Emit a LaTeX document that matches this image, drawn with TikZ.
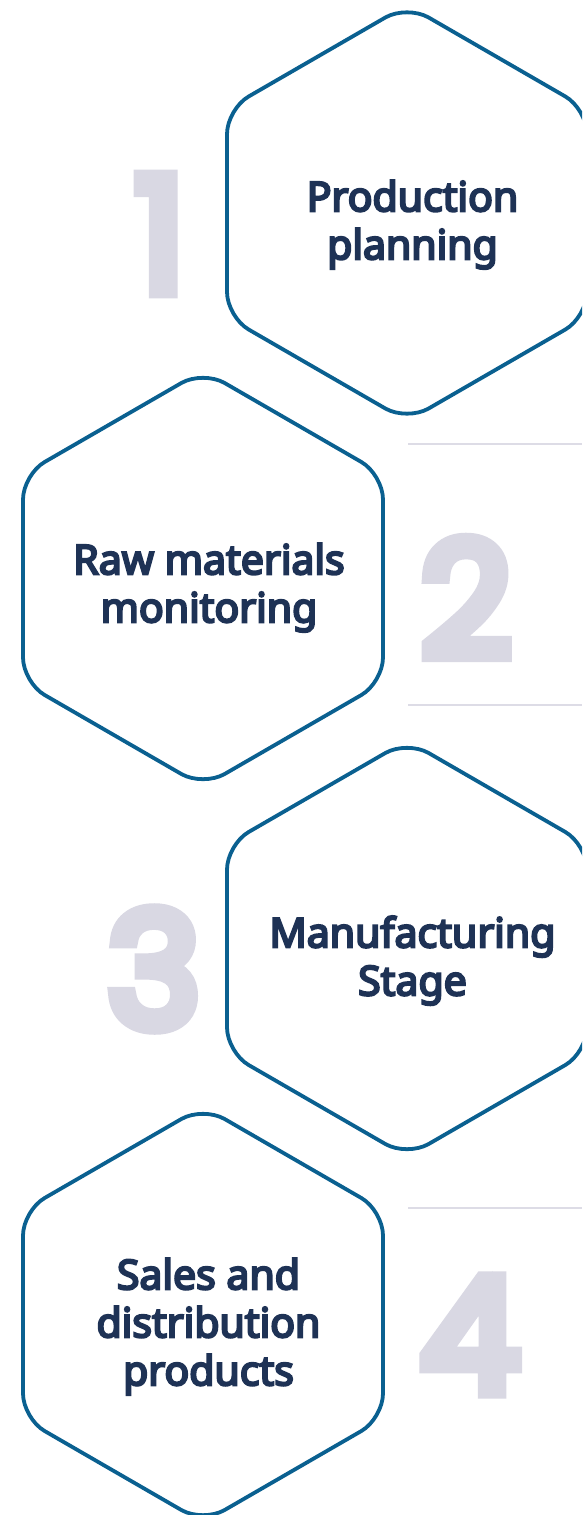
\documentclass[tikz,border=0pt]{standalone}
\usepackage{fontspec}
\setmainfont{Noto Sans}
\newfontfamily\labfont{Noto Sans}[FakeBold=5.2]
\newfontfamily\numfont{Poppins}[FakeBold=9]
\definecolor{hexblue}{HTML}{0A6090}
\definecolor{navy}{HTML}{1E3255}
\definecolor{numgray}{HTML}{D9D8E3}
\definecolor{rulegray}{HTML}{DDDCE6}
\tikzset{
  hexline/.style={draw=hexblue,line width=3.8pt,rounded corners=25pt},
  label/.style={text=navy,align=center,inner sep=0pt,font=\labfont\fontsize{41}{48}\selectfont},
  bignum/.style={text=numgray,inner sep=0pt,font=\numfont\fontsize{158}{158}\selectfont},
  sepline/.style={draw=rulegray,line width=2pt}
}
\newcommand{\hexat}[2]{\draw[hexline,shift={(#1,#2)}] (0,-208) -- (180,-104) -- (180,104) -- (0,208) -- (-180,104) -- (-180,-104) -- cycle;}
\begin{document}
\begin{tikzpicture}[x=1pt,y=-1pt]
\useasboundingbox (0,0) rectangle (582,1515);
\clip (0,0) rectangle (582,1515);
\fill[white] (0,0) rectangle (582,1515);
% separator lines
\coordinate (l1a) at (408,444); \coordinate (l1b) at (582,444);
\coordinate (l2a) at (408,705); \coordinate (l2b) at (582,705);
\coordinate (l3a) at (408,1208); \coordinate (l3b) at (582,1208);
\draw[sepline] (l1a) -- (l1b);
\draw[sepline] (l2a) -- (l2b);
\draw[sepline] (l3a) -- (l3b);
% hexagons
\hexat{407}{213}
\hexat{203}{578.5}
\hexat{407}{948.5}
\hexat{203}{1314.5}
% numbers
\node[bignum] (n1) at (160,234) {1};
\node[bignum] (n2) at (466,598) {2};
\node[bignum] (n3) at (154,969) {3};
\node[bignum] (n4) at (470,1335) {4};
% labels
\node[label] (t1) at (412.5,224.6) {Production\\planning};
\node[label] (t2) at (209,587.6) {Raw materials\\monitoring};
\node[label] (t3) at (412.5,960.6) {Manufacturing\\Stage};
\node[label] (t4) at (208.5,1326.6) {Sales and\\distribution\\products};
\end{tikzpicture}
\end{document}
